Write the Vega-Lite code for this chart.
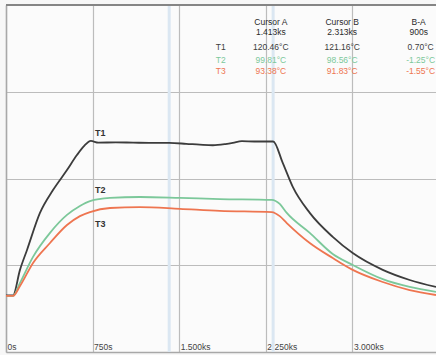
{
  "$schema": "https://vega.github.io/schema/vega-lite/v6.json",
  "width": 430,
  "height": 347,
  "autosize": "none",
  "padding": {"left": 6, "top": 5, "right": 0, "bottom": 3},
  "background": "#f7f7f7",
  "config": {
    "view": {"stroke": null, "fill": "#fbfbfb"},
    "font": "Liberation Sans"
  },
  "datasets": {
    "curves": [
      {"s": "T1", "t": 0, "v": 67.6}, {"s": "T1", "t": 61, "v": 67.6}, {"s": "T1", "t": 121, "v": 76.4}, {"s": "T1", "t": 182, "v": 83.3}, {"s": "T1", "t": 294, "v": 96.1}, {"s": "T1", "t": 407, "v": 104.0}, {"s": "T1", "t": 528, "v": 110.9}, {"s": "T1", "t": 614, "v": 116.1}, {"s": "T1", "t": 675, "v": 119.2}, {"s": "T1", "t": 735, "v": 121.0}, {"s": "T1", "t": 800, "v": 120.4}, {"s": "T1", "t": 950, "v": 120.5}, {"s": "T1", "t": 1100, "v": 120.4}, {"s": "T1", "t": 1300, "v": 120.3}, {"s": "T1", "t": 1413, "v": 120.3}, {"s": "T1", "t": 1560, "v": 120.0}, {"s": "T1", "t": 1678, "v": 119.7}, {"s": "T1", "t": 1791, "v": 119.5}, {"s": "T1", "t": 1900, "v": 119.9}, {"s": "T1", "t": 1964, "v": 120.3}, {"s": "T1", "t": 2042, "v": 120.9}, {"s": "T1", "t": 2150, "v": 120.8}, {"s": "T1", "t": 2313, "v": 120.8}, {"s": "T1", "t": 2396, "v": 113.4}, {"s": "T1", "t": 2483, "v": 105.1}, {"s": "T1", "t": 2630, "v": 96.1}, {"s": "T1", "t": 2829, "v": 87.8}, {"s": "T1", "t": 3002, "v": 82.2}, {"s": "T1", "t": 3262, "v": 76.4}, {"s": "T1", "t": 3495, "v": 72.9}, {"s": "T1", "t": 3723, "v": 70.5},
      {"s": "T2", "t": 0, "v": 67.4}, {"s": "T2", "t": 61, "v": 67.4}, {"s": "T2", "t": 121, "v": 71.9}, {"s": "T2", "t": 234, "v": 80.9}, {"s": "T2", "t": 381, "v": 89.2}, {"s": "T2", "t": 528, "v": 95.4}, {"s": "T2", "t": 640, "v": 98.5}, {"s": "T2", "t": 727, "v": 100.2}, {"s": "T2", "t": 900, "v": 101.3}, {"s": "T2", "t": 1159, "v": 101.6}, {"s": "T2", "t": 1505, "v": 101.3}, {"s": "T2", "t": 1851, "v": 100.9}, {"s": "T2", "t": 2301, "v": 100.6}, {"s": "T2", "t": 2370, "v": 99.2}, {"s": "T2", "t": 2431, "v": 96.1}, {"s": "T2", "t": 2630, "v": 89.2}, {"s": "T2", "t": 2829, "v": 81.9}, {"s": "T2", "t": 3002, "v": 78.1}, {"s": "T2", "t": 3262, "v": 73.2}, {"s": "T2", "t": 3495, "v": 70.5}, {"s": "T2", "t": 3723, "v": 68.8},
      {"s": "T3", "t": 0, "v": 67.4}, {"s": "T3", "t": 61, "v": 67.4}, {"s": "T3", "t": 121, "v": 70.8}, {"s": "T3", "t": 234, "v": 78.8}, {"s": "T3", "t": 381, "v": 85.7}, {"s": "T3", "t": 528, "v": 91.9}, {"s": "T3", "t": 640, "v": 95.0}, {"s": "T3", "t": 727, "v": 96.4}, {"s": "T3", "t": 900, "v": 97.8}, {"s": "T3", "t": 1159, "v": 98.1}, {"s": "T3", "t": 1505, "v": 97.5}, {"s": "T3", "t": 1851, "v": 96.8}, {"s": "T3", "t": 2301, "v": 96.4}, {"s": "T3", "t": 2370, "v": 95.0}, {"s": "T3", "t": 2431, "v": 92.6}, {"s": "T3", "t": 2630, "v": 85.7}, {"s": "T3", "t": 2829, "v": 80.5}, {"s": "T3", "t": 3002, "v": 76.4}, {"s": "T3", "t": 3262, "v": 72.2}, {"s": "T3", "t": 3495, "v": 69.4}, {"s": "T3", "t": 3723, "v": 67.7}
    ],
    "cursors": [{"t": 1413}, {"t": 2313}],
    "labels": [
      {"s": "T1", "t": 770, "v": 123.8, "text": "T1"},
      {"s": "T2", "t": 770, "v": 104.0, "text": "T2"},
      {"s": "T3", "t": 770, "v": 92.4, "text": "T3"}
    ],
    "table": [
      {"s": "H", "t": 2293, "v": 162.1, "text": "Cursor A"},
      {"s": "H", "t": 2293, "v": 158.7, "text": "1.413ks"},
      {"s": "H", "t": 2911, "v": 162.1, "text": "Cursor B"},
      {"s": "H", "t": 2911, "v": 158.7, "text": "2.313ks"},
      {"s": "H", "t": 3573, "v": 162.1, "text": "B-A"},
      {"s": "H", "t": 3573, "v": 158.7, "text": "900s"},
      {"s": "T1", "t": 1860, "v": 153.5, "text": "T1"},
      {"s": "T1", "t": 2293, "v": 153.5, "text": "120.46°C"},
      {"s": "T1", "t": 2911, "v": 153.5, "text": "121.16°C"},
      {"s": "T1", "t": 3590, "v": 153.5, "text": "0.70°C"},
      {"s": "T2", "t": 1860, "v": 149.0, "text": "T2"},
      {"s": "T2", "t": 2293, "v": 149.0, "text": "99.81°C"},
      {"s": "T2", "t": 2911, "v": 149.0, "text": "98.56°C"},
      {"s": "T2", "t": 3590, "v": 149.0, "text": "-1.25°C"},
      {"s": "T3", "t": 1860, "v": 145.2, "text": "T3"},
      {"s": "T3", "t": 2293, "v": 145.2, "text": "93.38°C"},
      {"s": "T3", "t": 2911, "v": 145.2, "text": "91.83°C"},
      {"s": "T3", "t": 3590, "v": 145.2, "text": "-1.55°C"}
    ]
  },
  "layer": [
    {
      "data": {"name": "cursors"},
      "mark": {"type": "rule", "color": "#dbe7f2", "strokeWidth": 3},
      "encoding": {
        "x": {"field": "t", "type": "quantitative", "scale": {"domain": [0, 3723], "nice": false, "zero": false},
          "axis": {"values": [0, 750, 1500, 2250, 3000], "grid": true, "gridColor": "#bcbcbc", "gridWidth": 1.2, "ticks": false, "domain": true, "domainColor": "#a8a8a8", "domainWidth": 1.5, "labelAlign": "left", "labelBaseline": "alphabetic", "labelPadding": -3, "labelOffset": 1, "labelFlush": false, "labelFontSize": 8.5, "labelColor": "#444", "labelFont": "Liberation Sans", "title": null,
            "labelExpr": "datum.value == 0 ? '0s' : datum.value == 750 ? '750s' : datum.value == 1500 ? '1.500ks' : datum.value == 2250 ? '2.250ks' : '3.000ks'"}}
      }
    },
    {
      "data": {"name": "curves"},
      "mark": {"type": "line", "strokeWidth": 1.8, "interpolate": "monotone"},
      "encoding": {
        "x": {"field": "t", "type": "quantitative"},
        "y": {"field": "v", "type": "quantitative", "scale": {"domain": [48, 168], "nice": false, "zero": false},
          "axis": {"values": [78, 108, 138], "grid": true, "gridColor": "#bcbcbc", "gridWidth": 1.2, "ticks": false, "labels": false, "domain": true, "domainColor": "#a8a8a8", "domainWidth": 1.5, "title": null}},
        "color": {"field": "s", "type": "nominal", "scale": {"domain": ["T1", "T2", "T3", "H"], "range": ["#3c3c3c", "#7cc89a", "#ee7550", "#2a2a2a"]}, "legend": null}
      }
    },
    {
      "data": {"values": [{"v": 168}]},
      "mark": {"type": "rule", "color": "#858585", "strokeWidth": 2},
      "encoding": {"y": {"field": "v", "type": "quantitative"}}
    },
    {
      "data": {"name": "labels"},
      "mark": {"type": "text", "align": "left", "baseline": "middle", "fontSize": 9, "fontWeight": "bold", "color": "#333"},
      "encoding": {
        "x": {"field": "t", "type": "quantitative"},
        "y": {"field": "v", "type": "quantitative"},
        "text": {"field": "text"}
      }
    },
    {
      "data": {"name": "table"},
      "mark": {"type": "text", "align": "center", "baseline": "middle", "fontSize": 8.5},
      "encoding": {
        "x": {"field": "t", "type": "quantitative"},
        "y": {"field": "v", "type": "quantitative"},
        "text": {"field": "text"},
        "color": {"field": "s", "type": "nominal", "legend": null}
      }
    }
  ]
}
